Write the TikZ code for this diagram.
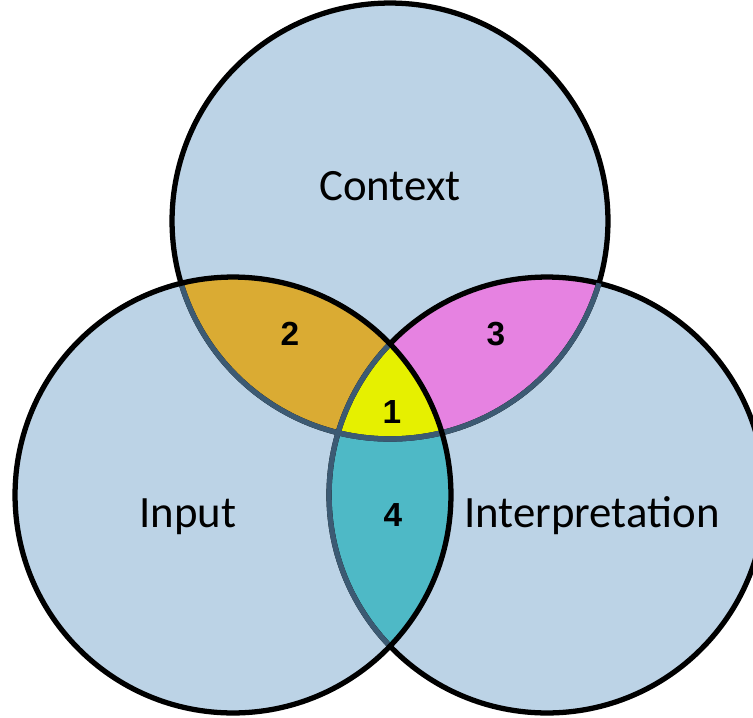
\documentclass[tikz,border=0pt]{standalone}
\usepackage{fontspec}
\setmainfont{Carlito}
\newfontfamily\numfont{Liberation Sans}
\definecolor{setblue}{RGB}{188,211,230}
\definecolor{lensorange}{RGB}{218,171,51}
\definecolor{lenspink}{RGB}{230,130,225}
\definecolor{lensteal}{RGB}{78,185,198}
\definecolor{lensyellow}{RGB}{230,240,0}
\definecolor{innerline}{RGB}{60,90,115}
\tikzset{
    setname/.style={anchor=base, font=\fontsize{25.5}{30}\selectfont},
    regnum/.style={anchor=base, font=\numfont\bfseries\fontsize{19}{21}\selectfont},
    rim/.style={line width=3pt},
}

\begin{document}
\begin{tikzpicture}[x=0.02cm, y=-0.02cm]
    \useasboundingbox (0,0) rectangle (753,717);
    \def\rad{4.36cm}
    \coordinate (ctx) at (390,221);
    \coordinate (inp) at (233,495);
    \coordinate (intp) at (547,495);

    % Circles
    \fill[setblue] (ctx) circle (\rad) (inp) circle (\rad) (intp) circle (\rad);

    % Overlaps
    \begin{scope}
        \clip (ctx) circle (\rad);
        \fill[lensorange] (inp) circle (\rad);
    \end{scope}
    \begin{scope}
        \clip (ctx) circle (\rad);
        \fill[lenspink] (intp) circle (\rad);
    \end{scope}
    \begin{scope}
        \clip (inp) circle (\rad);
        \fill[lensteal] (intp) circle (\rad);
    \end{scope}
    \begin{scope}
        \clip (ctx) circle (\rad);
        \clip (inp) circle (\rad);
        \fill[lensyellow] (intp) circle (\rad);
    \end{scope}

    % Outlines
    \draw[rim] (ctx) circle (\rad) (intp) circle (\rad);
    \begin{scope}
        \clip (inp) circle (\rad);
        \draw[rim, innerline] (ctx) circle (\rad) (intp) circle (\rad);
    \end{scope}
    \begin{scope}
        \clip (intp) circle (\rad);
        \draw[rim, innerline] (ctx) circle (\rad);
    \end{scope}
    \draw[rim] (inp) circle (\rad);

    % Labels
    \node[setname] (ctxlabel) at (390,200) {Context};
    \node[setname] (inplabel) at (188,527) {Input};
    \node[setname] (intplabel) at (592,527) {Interpretation};
    \node[regnum] (num1) at (392,423) {1};
    \node[regnum] (num2) at (290,345) {2};
    \node[regnum] (num3) at (496,345) {3};
    \node[regnum] (num4) at (393,526) {4};
\end{tikzpicture}
\end{document}
